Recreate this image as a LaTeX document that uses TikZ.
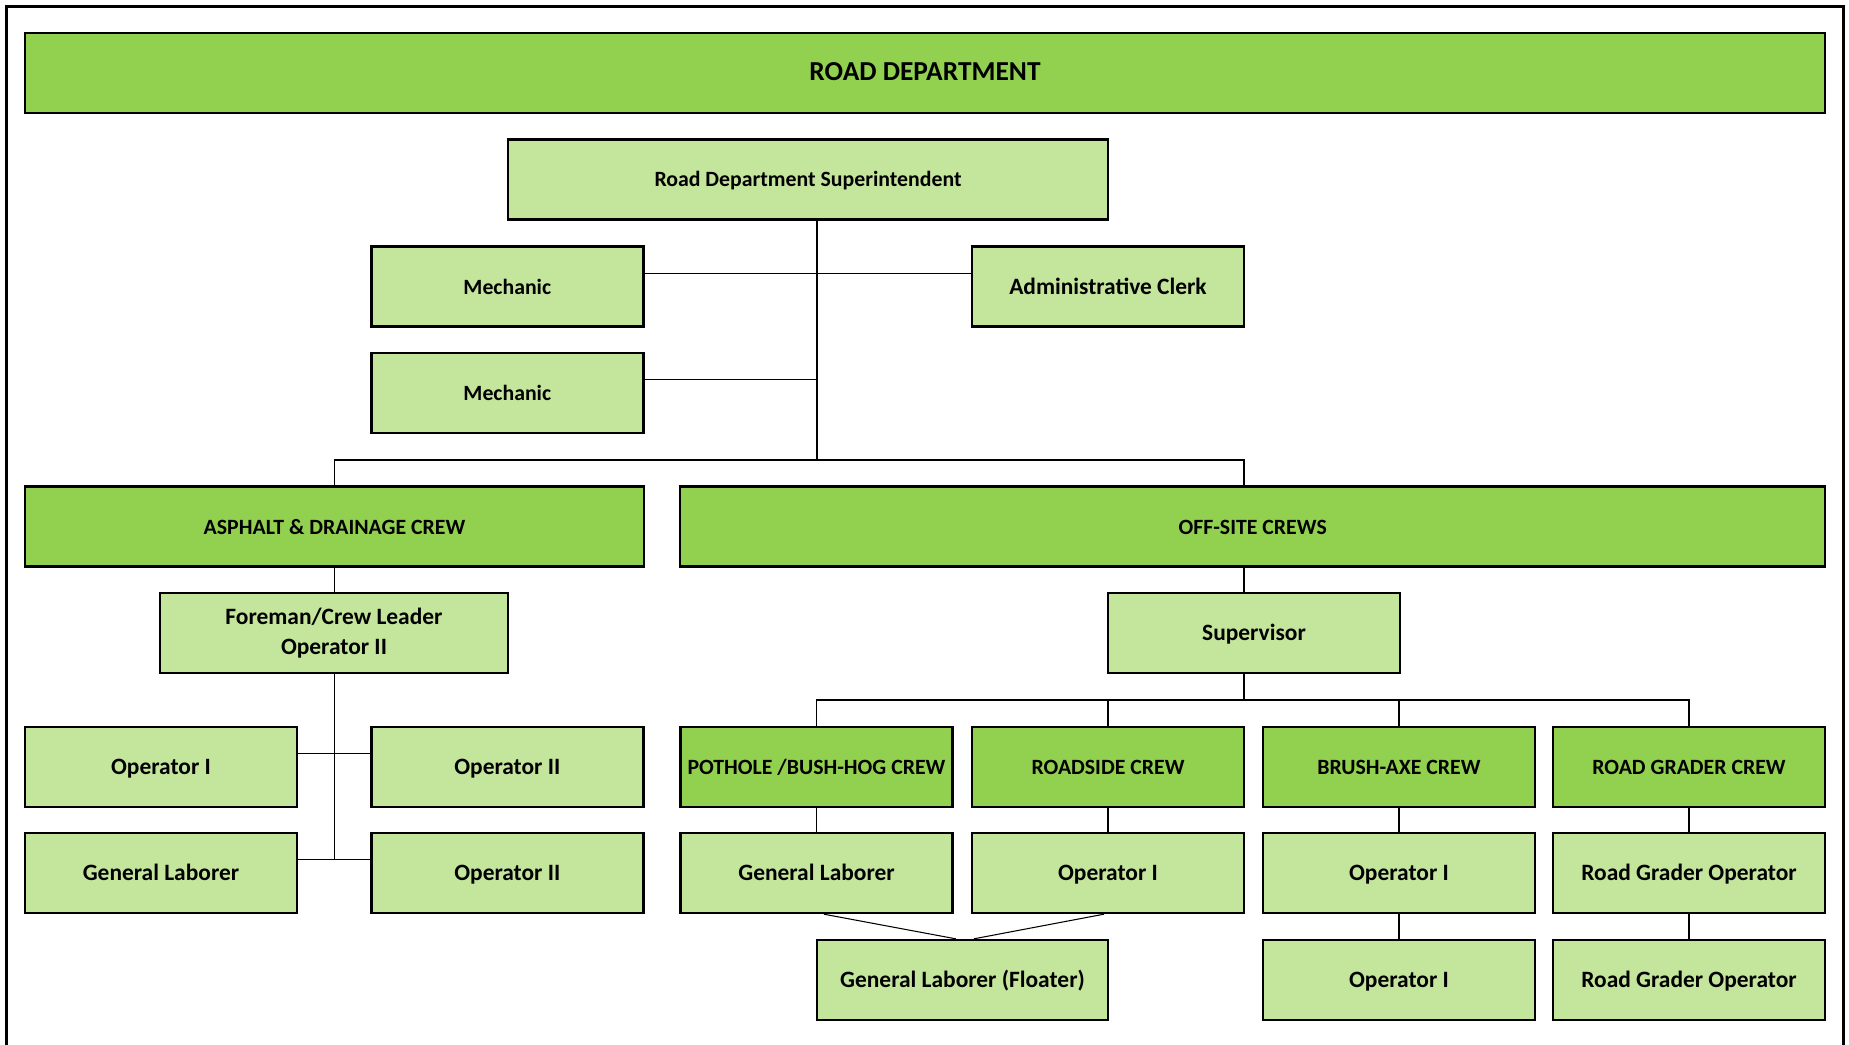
\documentclass[tikz,border=0pt]{standalone}
\usepackage{fontspec}
\setmainfont{Carlito}
\definecolor{dgreen}{HTML}{92D050}
\definecolor{lgreen}{HTML}{C4E59C}
\tikzset{
every node/.style={font=\bfseries\fontsize{10}{12.8}\selectfont},
}

\begin{document}
\begin{tikzpicture}[
						base/.style={draw, line width=1pt, minimum width=4.08cm, minimum height=1.2cm, inner sep=0pt, align=center},
						one/.style={text height=0.82em, text depth=0.18em},
						unit/.style={base, one, fill=dgreen, font=\bfseries\fontsize{9.3}{11}\selectfont},
                        post/.style={base, one, fill=lgreen},
                        fsmall/.style={font=\bfseries\fontsize{9.3}{11}\selectfont},
                        ln/.style={line width=0.7pt},
					]
					\useasboundingbox (0,0) rectangle (27.735,-15.675);
					\draw[line width=1.1pt] (0.1,-15.675) |- (27.655,-0.1) -- (27.655,-15.675);
					\node[unit, minimum width=27cm, font=\bfseries\fontsize{11.7}{14}\selectfont] (dept) at (13.875,-1.095) {ROAD DEPARTMENT};
					\node[post, fsmall, minimum width=9cm] (supt) at (12.12,-2.69) {Road Department Superintendent};
					\node[post, fsmall] (mech1) at (7.61,-4.30) {Mechanic};
					\node[post] (clerk) at (16.62,-4.30) {Administrative Clerk};
					\node[post, fsmall] (mech2) at (7.61,-5.895) {Mechanic};
					\node[unit, minimum width=9.285cm] (asph) at (5.0175,-7.90) {ASPHALT \& DRAINAGE CREW};
					\node[unit, minimum width=17.175cm] (off) at (18.79,-7.90) {OFF-SITE CREWS};
					\node[base, fill=lgreen, minimum width=5.22cm] (fore) at (5.01,-9.495) {Foreman/Crew Leader\\Operator II};
					\node[post, minimum width=4.38cm] (sup) at (18.81,-9.495) {Supervisor};
					% crews and first row
					\node[post] (opa) at (2.415,-11.5) {Operator I};
					\node[post] (opb) at (7.61,-11.5) {Operator II};
					\node[unit] (pot) at (12.2475,-11.5) {POTHOLE /BUSH-HOG CREW};
					\node[unit] (road) at (16.62,-11.5) {ROADSIDE CREW};
					\node[unit] (brush) at (20.985,-11.5) {BRUSH-AXE CREW};
					\node[unit] (grd) at (25.335,-11.5) {ROAD GRADER CREW};
					% second row
					\node[post] (gla) at (2.415,-13.095) {General Laborer};
					\node[post] (opc) at (7.61,-13.095) {Operator II};
					\node[post] (glb) at (12.2475,-13.095) {General Laborer};
					\node[post] (opd) at (16.62,-13.095) {Operator I};
					\node[post] (ope) at (20.985,-13.095) {Operator I};
					\node[post] (rgoa) at (25.335,-13.095) {Road Grader Operator};
					% third row
					\node[post, minimum width=4.365cm] (flt) at (14.4375,-14.70) {General Laborer (Floater)};
					\node[post] (opf) at (20.985,-14.70) {Operator I};
					\node[post] (rgob) at (25.335,-14.70) {Road Grader Operator};
					% connectors
					\coordinate (j1) at (12.255,-6.90);
					\coordinate (j2) at (18.66,-6.90);
					\coordinate (j3) at (18.66,-10.50);
					\coordinate (f1) at (5.0175,-12.895);
					\draw[ln] (supt.south -| j1) -- (j1);
					\draw[ln] ([yshift=0.2cm]mech1.east) -- ([yshift=0.2cm]clerk.west);
					\draw[ln] ([yshift=0.2cm]mech2.east) -- ([yshift=0.2cm]mech2.east -| j1);
					\draw[ln] (asph.north) |- (j2) -- (off.north -| j2);
					\draw[ln] (off.south -| j2) -- (sup.north -| j2);
					\draw[ln] (sup.south -| j3) -- (j3);
					\draw[ln] (pot.north) |- (j3) -| (grd.north);
					\draw[ln] (road.north) -- (road.north |- j3);
					\draw[ln] (brush.north) -- (brush.north |- j3);
					\draw[ln] (asph.south) -- (asph.south |- fore.north);
					\draw[ln] (fore.south -| f1) -- (f1);
					\draw[ln] ([yshift=0.2cm]opa.east) -- ([yshift=0.2cm]opb.west);
					\draw[ln] ([yshift=0.2cm]gla.east) -- ([yshift=0.2cm]opc.west);
					\foreach \a/\b in {pot/glb, road/opd, brush/ope, grd/rgoa, ope/opf, rgoa/rgob}
						\draw[ln] (\a) -- (\b);
					\draw[line width=0.45pt] ([xshift=0.11cm]glb.south) -- ([xshift=-0.1cm]flt.north);
					\draw[line width=0.45pt] ([xshift=-0.06cm]opd.south) -- ([xshift=0.17cm]flt.north);
	\end{tikzpicture}
\end{document}
